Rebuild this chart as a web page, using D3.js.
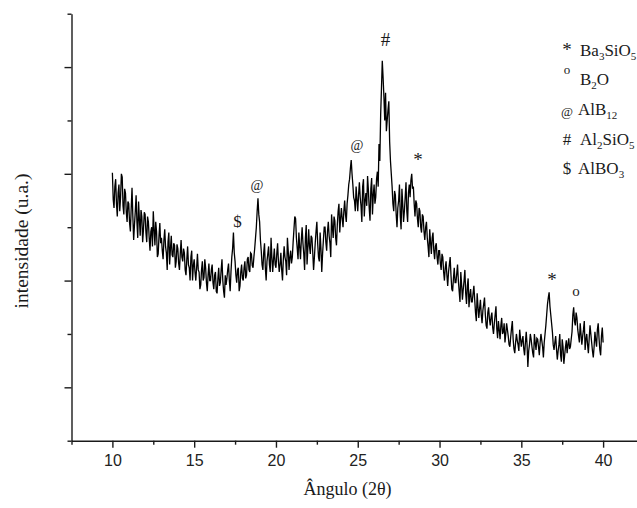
<!DOCTYPE html>
<html>
<head>
<meta charset="utf-8">
<script src="https://cdn.jsdelivr.net/npm/d3@7"></script>
<style>
  body { margin: 0; background: #fff; }
  svg { display: block; }
</style>
</head>
<body>
<div class="chart-container"></div>
<script>
// XRD pattern, sampled every 0.05 degree from 10 to 40 (2 theta)
const angleStart = 10;
const angleStep = 0.05;
const intensity = [
  251, 226, 218, 238, 245, 222, 210, 232, 240, 215, 228, 250, 247, 220, 212, 236, 232, 214, 205, 224, // 10
  222, 204, 196, 218, 237, 210, 188, 202, 215, 230, 205, 190, 224, 208, 192, 216, 210, 186, 198, 214, // 11
  212, 195, 186, 210, 205, 190, 178, 196, 200, 182, 215, 198, 183, 205, 196, 172, 175, 192, 204, 185, // 12
  190, 178, 170, 188, 198, 182, 176, 160, 186, 195, 165, 180, 192, 174, 172, 185, 183, 162, 168, 184, // 13
  180, 166, 160, 175, 188, 172, 168, 180, 176, 160, 155, 170, 182, 165, 162, 150, 172, 178, 150, 164, // 14
  170, 158, 150, 162, 175, 160, 158, 142, 146, 160, 168, 150, 153, 170, 162, 148, 140, 155, 166, 150, // 15
  150, 160, 165, 148, 142, 155, 158, 140, 138, 152, 162, 145, 148, 160, 170, 150, 140, 134, 155, 146, // 16
  152, 160, 166, 150, 140, 158, 172, 180, 195, 176, 168, 155, 148, 160, 162, 140, 145, 158, 165, 152, // 17
  150, 162, 168, 152, 155, 170, 172, 160, 158, 176, 175, 164, 162, 172, 180, 190, 200, 215, 227, 212, // 18
  205, 188, 178, 165, 160, 176, 185, 162, 150, 168, 175, 182, 165, 158, 190, 172, 158, 170, 180, 165, // 19
  162, 175, 185, 168, 158, 165, 176, 160, 150, 170, 182, 172, 168, 155, 190, 178, 160, 172, 178, 166, // 20
  172, 186, 198, 210, 208, 190, 180, 170, 195, 182, 170, 188, 200, 185, 175, 160, 190, 202, 165, 180, // 21
  198, 182, 175, 192, 190, 176, 160, 172, 185, 196, 205, 185, 172, 168, 195, 180, 158, 175, 188, 200, // 22
  200, 186, 178, 196, 205, 192, 185, 172, 212, 200, 190, 210, 206, 190, 183, 202, 215, 222, 195, 208, // 23
  218, 208, 200, 215, 225, 212, 205, 222, 230, 240, 245, 255, 263, 250, 240, 228, 225, 215, 238, 226, // 24
  215, 230, 242, 228, 220, 205, 238, 245, 210, 225, 232, 220, 248, 235, 218, 206, 236, 246, 212, 230, // 25
  240, 222, 228, 245, 252, 238, 278, 262, 305, 330, 356, 340, 322, 300, 326, 290, 300, 310, 318, 280, // 26
  262, 250, 238, 222, 215, 234, 230, 212, 200, 218, 225, 240, 210, 198, 236, 222, 205, 215, 228, 242, // 27
  215, 205, 232, 240, 228, 244, 250, 236, 238, 222, 210, 225, 222, 208, 200, 218, 215, 200, 195, 212, // 28
  210, 196, 188, 200, 205, 190, 182, 172, 198, 186, 175, 190, 195, 178, 170, 182, 185, 172, 165, 178, // 29
  178, 166, 160, 175, 172, 158, 150, 162, 168, 155, 145, 158, 165, 172, 155, 142, 140, 152, 162, 148, // 30
  148, 156, 165, 150, 140, 130, 158, 146, 132, 142, 150, 160, 138, 128, 145, 152, 125, 136, 142, 130, // 31
  130, 138, 145, 132, 120, 112, 138, 126, 115, 124, 132, 118, 110, 122, 128, 134, 118, 108, 105, 120, // 32
  125, 114, 108, 116, 120, 106, 100, 110, 118, 126, 105, 96, 112, 104, 95, 108, 115, 100, 102, 110,   // 33
  92, 100, 110, 104, 98, 90, 88, 97, 105, 112, 95, 86, 82, 92, 100, 94, 90, 84, 104, 96,              // 34
  88, 94, 98, 86, 80, 92, 102, 90, 69, 84, 90, 100, 95, 88, 82, 78, 100, 92, 85, 96,                  // 35
  95, 88, 80, 92, 100, 94, 88, 78, 92, 100, 108, 118, 128, 134, 139, 126, 118, 110, 102, 90,          // 36
  85, 92, 98, 86, 76, 84, 90, 100, 80, 74, 95, 88, 72, 80, 88, 94, 82, 90, 96, 86,                    // 37
  88, 95, 102, 118, 125, 112, 108, 120, 115, 104, 98, 92, 110, 100, 90, 98, 104, 112, 85, 95,         // 38
  100, 90, 82, 96, 108, 100, 92, 84, 78, 88, 102, 94, 88, 104, 110, 96, 85, 80, 98, 106,              // 39
  92                                                                                                  // 40
];

const xMajorTicks = [10, 15, 20, 25, 30, 35, 40];
const xMinorTicks = [7.5, 12.5, 17.5, 22.5, 27.5, 32.5, 37.5, 42.5];
const yMajorTicks = [50, 150, 250, 350];
const yMinorTicks = [0, 100, 200, 300, 400];

const peakLabels = ["$", "@", "@", "#", "*", "*", "o"];
const peakAngles = [17.65, 18.84, 24.95, 26.69, 28.68, 36.87, 38.34];
const peakHeights = [200, 235, 272, 370, 257, 145, 136];

const legendSymbols = ["*", "o", "@", "#", "$"];
const legendNames = ["Ba_3SiO_5", "B_2O", "AlB_12", "Al_2SiO_5", "AlBO_3"];

const width = 637;
const height = 508;

const x = d3.scaleLinear().domain([7.5, 42.5]).range([71.5, 644]);
const y = d3.scaleLinear().domain([0, 400]).range([440.7, 13.7]);

const data = intensity.map((v, i) => ({ angle: angleStart + i * angleStep, value: v }));

const svg = d3
  .select(".chart-container")
  .append("svg")
  .attr("width", width)
  .attr("height", height);

// pattern
const line = d3
  .line()
  .x((d) => x(d.angle))
  .y((d) => y(d.value));

svg
  .append("path")
  .datum(data)
  .attr("fill", "none")
  .attr("stroke", "#000")
  .attr("stroke-width", 1.3)
  .attr("d", line);

// axes
const axisColor = "#1a1a1a";

function styleAxis(g) {
  g.selectAll("path, line").attr("stroke", axisColor).attr("stroke-width", 1.4);
}

svg
  .append("g")
  .attr("transform", `translate(0,${y(0)})`)
  .call(d3.axisBottom(x).tickValues(xMinorTicks).tickSize(4).tickSizeOuter(0).tickFormat(""))
  .call(styleAxis);

const xAxis = svg
  .append("g")
  .attr("transform", `translate(0,${y(0)})`)
  .call(d3.axisBottom(x).tickValues(xMajorTicks).tickSize(7).tickSizeOuter(0).tickPadding(7))
  .call(styleAxis);

xAxis.select(".domain").remove();
xAxis
  .selectAll("text")
  .attr("fill", "#222")
  .style("font-family", "'Liberation Sans', Arial, sans-serif")
  .style("font-size", "16px");

svg
  .append("g")
  .attr("transform", `translate(${x(7.5)},0)`)
  .call(d3.axisLeft(y).tickValues(yMinorTicks).tickSize(4).tickSizeOuter(0).tickFormat(""))
  .call(styleAxis);

const yAxis = svg
  .append("g")
  .attr("transform", `translate(${x(7.5)},0)`)
  .call(d3.axisLeft(y).tickValues(yMajorTicks).tickSize(7).tickSizeOuter(0).tickFormat(""))
  .call(styleAxis);
yAxis.select(".domain").remove();

// axis titles
const serif = "'Liberation Serif', 'Times New Roman', serif";

svg
  .append("text")
  .attr("x", 347.5)
  .attr("y", 495)
  .attr("text-anchor", "middle")
  .attr("fill", "#1a1a1a")
  .style("font-family", serif)
  .style("font-size", "18px")
  .text("Ângulo (2θ)");

svg
  .append("text")
  .attr("transform", "translate(28,241) rotate(-90)")
  .attr("text-anchor", "middle")
  .attr("fill", "#1a1a1a")
  .style("font-family", serif)
  .style("font-size", "19.5px")
  .text("intensidade (u.a.)");

// peak markers
const peakSizes = { $: 17, "@": 14, "#": 19, "*": 19, o: 15 };

svg
  .selectAll("text.peak")
  .data(peakLabels)
  .enter()
  .append("text")
  .attr("class", "peak")
  .attr("x", (d, i) => x(peakAngles[i]))
  .attr("y", (d, i) => y(peakHeights[i]))
  .attr("text-anchor", "middle")
  .attr("fill", "#1a1a1a")
  .style("font-family", serif)
  .style("font-size", (d) => peakSizes[d] + "px")
  .text((d) => d);

// legend
const legendBaselines = [56, 85, 115, 145, 174];
const legendSymbolSizes = { "*": 19, o: 13, "@": 13, "#": 17, $: 17 };
const legendSymbolDy = { "*": 0, o: -11, "@": 1, "#": 0, $: 0 };

const legend = svg.append("g").attr("class", "legend");

legendNames.forEach((name, i) => {
  const sym = legendSymbols[i];
  legend
    .append("text")
    .attr("x", 567)
    .attr("y", legendBaselines[i] + legendSymbolDy[sym])
    .attr("text-anchor", "middle")
    .attr("fill", "#1a1a1a")
    .style("font-family", serif)
    .style("font-size", legendSymbolSizes[sym] + "px")
    .text(sym);

  const t = legend
    .append("text")
    .attr("x", i === 2 || i === 4 ? 578 : 580)
    .attr("y", legendBaselines[i])
    .attr("fill", "#1a1a1a")
    .style("font-family", serif)
    .style("font-size", "17px");

  const parts = name.split(/_(\d+)/);
  let shifted = false;
  parts.forEach((p, k) => {
    if (!p) return;
    const isSub = k % 2 === 1;
    const ts = t.append("tspan").text(p);
    if (isSub) {
      ts.attr("dy", 4).style("font-size", "11px");
      shifted = true;
    } else if (shifted) {
      ts.attr("dy", -4);
      shifted = false;
    }
  });
});
</script>
</body>
</html>
